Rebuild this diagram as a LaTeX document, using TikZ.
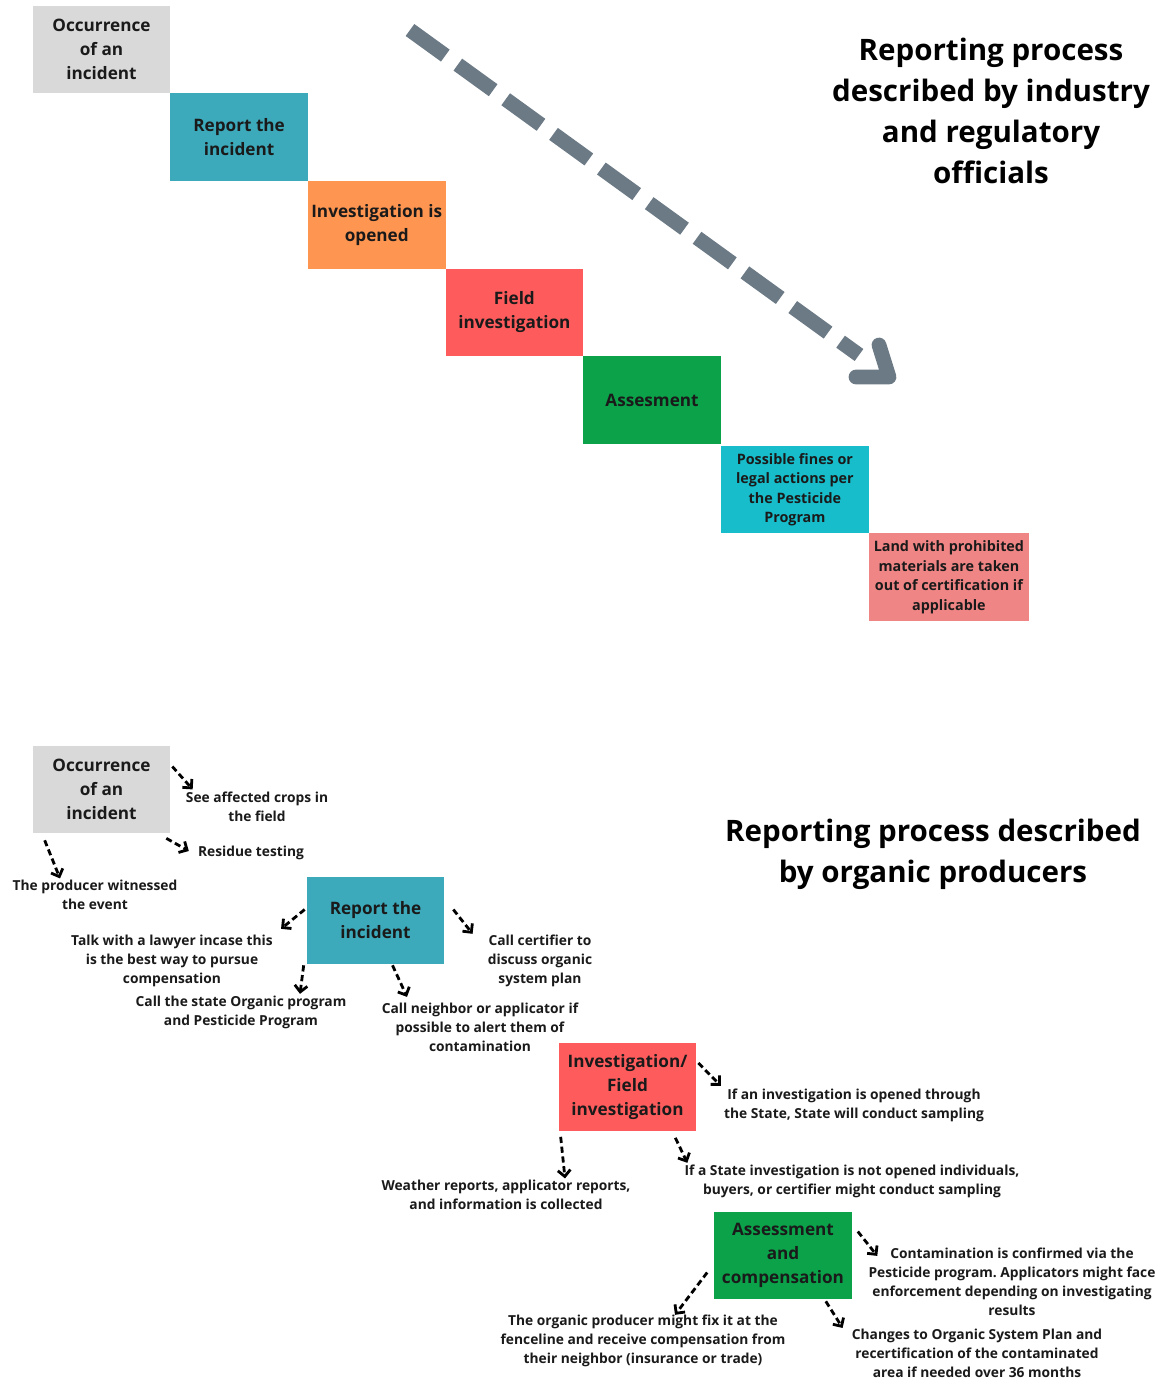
\documentclass[tikz,border=0pt]{standalone}
\usepackage{fontspec}
\setmainfont{Open Sans}
\usetikzlibrary{arrows.meta,positioning}
\frenchspacing

\definecolor{occgray}{HTML}{D9D9D9}
\definecolor{repteal}{HTML}{3DAABB}
\definecolor{invorange}{HTML}{FE9651}
\definecolor{fldred}{HTML}{FE5C5C}
\definecolor{assgreen}{HTML}{0BA24A}
\definecolor{fincyan}{HTML}{17BDCA}
\definecolor{lndpink}{HTML}{F08585}
\definecolor{bigarrow}{HTML}{6C7A86}
\definecolor{ink}{HTML}{1A1A1A}

\newcommand{\titlefont}{\fontsize{21}{29}\selectfont\bfseries}
\newcommand{\bigboxfont}{\fontsize{12.2}{17}\selectfont\bfseries}
\newcommand{\smallboxfont}{\fontsize{10.2}{13.8}\selectfont\bfseries}
\newcommand{\notefont}{\fontsize{9.8}{13.5}\selectfont\bfseries}

\begin{document}
\begin{tikzpicture}[x=0.025cm, y=-0.025cm,
    stepbox/.style={rectangle, inner sep=0pt, outer sep=0pt, align=center, text=ink,
        minimum width=3.44cm, minimum height=2.19cm, font=\bigboxfont},
    note/.style={inner sep=0pt, align=center, text=ink, font=\notefont},
    dasharrow/.style={line width=2pt, dash pattern=on 4.4pt off 2.6pt,
        -{Straight Barb[length=4.5pt, width=9pt, line width=2pt]}}]
    \fill[white] (0,0) rectangle (1159,1383);
    \useasboundingbox (0,0) rectangle (1159,1383);

    % industry process: staircase
    \node[stepbox, fill=occgray] (occ1) at (101.5,49.5) {Occurrence\\of an\\incident};
    \node[stepbox, fill=repteal, anchor=north west] (rep1) at (occ1.south east) {Report the\\incident};
    \node[stepbox, fill=invorange, anchor=north west] (inv1) at (rep1.south east) {Investigation is\\opened};
    \node[stepbox, fill=fldred, anchor=north west] (fld1) at (inv1.south east) {Field\\investigation};
    \node[stepbox, fill=assgreen, anchor=north west] (ass1) at (fld1.south east) {Assesment};
    \node[stepbox, fill=fincyan, anchor=north west, minimum width=3.7cm,
        font=\smallboxfont] (fin1) at ([yshift=-0.05cm]ass1.south east)
        {Possible fines or\\legal actions per\\the Pesticide\\Program};
    \node[stepbox, fill=lndpink, anchor=north west, minimum width=4cm,
        font=\smallboxfont] (lnd1) at (fin1.south east)
        {Land with prohibited\\materials are taken\\out of certification if\\applicable};

    \node[font=\titlefont, align=center, inner sep=0pt] (title1) at (991,111)
        {Reporting process\\described by industry\\and regulatory\\officials};

    % big dashed arrow
    \coordinate (arrS) at (410,30);
    \coordinate (arrE) at (889,377);
    \draw[bigarrow, line width=10.5pt, dash pattern=on 31pt off 11pt] (arrS) -- ([shift={(-30,-22)}]arrE);
    \draw[bigarrow, line width=10.5pt, line cap=round, line join=round]
        ([shift={(-33,0)}]arrE) -- (arrE) -- ([shift={(-10,-32)}]arrE);

    % organic producers
    \node[font=\titlefont, align=center, inner sep=0pt] (title2) at (933,854)
        {Reporting process described\\by organic producers};

    \node[stepbox, fill=occgray] (occ2) at (101.5,789.5) {Occurrence\\of an\\incident};
    \node[stepbox, fill=repteal] (rep2) at (375.5,920.5) {Report the\\incident};
    \node[stepbox, fill=fldred] (inv2) at (627.5,1087) {Investigation/\\Field\\investigation};
    \node[stepbox, fill=assgreen] (ass2) at (783,1255.5) {Assessment\\and\\compensation};

    \node[note] (see) at (257,806.5) {See affected crops in\\the field};
    \node[note] (res) at (251,853) {Residue testing};
    \node[note] (wit) at (95,894.5) {The producer witnessed\\the event};
    \node[note] (law) at (172,961) {Talk with a lawyer incase this\\is the best way to pursue\\compensation};
    \node[note] (sta) at (241,1012.5) {Call the state Organic program\\and Pesticide Program};
    \node[note] (nei) at (480,1027.5) {Call neighbor or applicator if\\possible to alert them of\\contamination};
    \node[note] (cer) at (540,961) {Call certifier to\\discuss organic\\system plan};
    \node[note] (ifo) at (854,1105.5) {If an investigation is opened through\\the State, State will conduct sampling};
    \node[note] (wea) at (506,1194.5) {Weather reports, applicator reports,\\and information is collected};
    \node[note] (ifn) at (852,1181.5) {If a State investigation is not opened individuals,\\buyers, or certifier might conduct sampling};
    \node[note] (con) at (1012,1282) {Contamination is confirmed via the\\Pesticide program. Applicators might face\\enforcement depending on investigating\\results};
    \node[note] (fix) at (643,1341) {The organic producer might fix it at the\\fenceline and receive compensation from\\their neighbor (insurance or trade)};
    \node[note] (chg) at (977,1353.5) {Changes to Organic System Plan and\\recertification of the contaminated\\area if needed over 36 months};

    % small dashed arrows
    \draw[dasharrow] ([shift={(2,-23)}]occ2.east) -- ([shift={(7,-2)}]see.north west);
    \draw[dasharrow] ([shift={(-4,5)}]occ2.south east) -- ([shift={(-9,-2)}]res.west);
    \draw[dasharrow] ([shift={(12,7)}]occ2.south west) -- ([shift={(-35,-1)}]wit.north);
    \draw[dasharrow] ([shift={(-2,-11)}]rep2.west) -- ([shift={(8,-6)}]law.north east);
    \draw[dasharrow] ([shift={(-3,1)}]rep2.south west) -- ([shift={(59,-2)}]sta.north);
    \draw[dasharrow] ([shift={(17,1)}]rep2.south) -- ([shift={(-73,-6)}]nei.north);
    \draw[dasharrow] ([shift={(9,-11)}]rep2.east) -- ([shift={(-15,-1)}]cer.north west);
    \draw[dasharrow] ([shift={(2,-24)}]inv2.east) -- ([shift={(-3,-3)}]ifo.north west);
    \draw[dasharrow] ([shift={(2,6)}]inv2.south west) -- ([shift={(59,-1)}]wea.north);
    \draw[dasharrow] ([shift={(-21,7)}]inv2.south east) -- ([shift={(3,-2)}]ifn.north west);
    \draw[dasharrow] ([shift={(6,-24)}]ass2.east) -- ([shift={(9,8)}]con.north west);
    \draw[dasharrow] ([shift={(-7,17)}]ass2.west) -- ([shift={(32,0)}]fix.north);
    \draw[dasharrow] ([shift={(-26,2)}]ass2.south east) -- ([shift={(-9,-1)}]chg.north west);
\end{tikzpicture}
\end{document}
